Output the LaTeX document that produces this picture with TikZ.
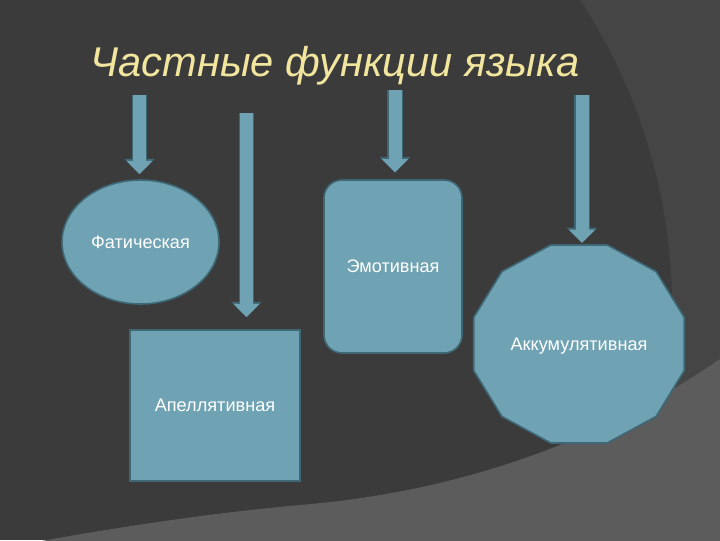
\documentclass[tikz,border=0pt]{standalone}
\usepackage{fontspec}
\setmainfont{Liberation Sans}
\usetikzlibrary{arrows.meta}
\usetikzlibrary{shapes.geometric}

\definecolor{bgdark}{RGB}{59,59,59}
\definecolor{bgmid}{RGB}{69,69,69}
\definecolor{bglight}{RGB}{92,92,92}
\definecolor{boxfill}{RGB}{111,162,178}
\definecolor{boxedge}{RGB}{62,104,118}
\definecolor{titlecol}{RGB}{242,230,158}

\begin{document}
\begin{tikzpicture}[x=0.75pt,y=0.75pt,yscale=-1,xscale=1,
  funcbox/.style={draw=boxedge, line width=1.2pt, fill=boxfill, text=white, font=\fontsize{13.6}{16}\selectfont, inner sep=0pt},
  downarrow/.style={draw=boxfill, line width=9.75pt, -{Triangle[width=19pt,length=10pt]}, preaction={draw=boxedge, line width=11.5pt, -{Triangle[width=22pt,length=11.5pt]}}}]
\useasboundingbox (0,0) rectangle (720,540);

%Background
\fill[bgdark] (0,0) rectangle (720,540);
\begin{scope}
\clip (0,0) rectangle (720,540);
\fill[bgmid, even odd rule] (-10,-10) rectangle (730,550) (108.5,308.7) circle[radius=563.6];
\fill[bglight] (730,352) .. controls (620,430) and (480,490) .. (300,505) .. controls (200,514) and (100,530) .. (20,545) -- (730,545) -- cycle;
\end{scope}

% Text Node
\node[font=\fontsize{31.2}{36}\selectfont\itshape, text=titlecol, anchor=base] (title) at (335,76) {Частные функции языка};

%Shape: Ellipse
\node[funcbox, ellipse, minimum width=117.75pt, minimum height=93pt] (phatic) at (140.5,242) {Фатическая};
%Rounded Rect
\node[funcbox, rounded corners=13.5pt, minimum width=103.5pt, minimum height=129.75pt] (emotive) at (393,266.5) {Эмотивная};
%Shape: Square
\node[funcbox, minimum width=127.5pt, minimum height=113.25pt] (appellative) at (215,405.5) {Апеллятивная};
%Shape: Polygon
\begin{scope}[shift={(579,344)}]
\draw[funcbox] (15:109 and 102.5) \foreach \ang in {45,75,...,345} { -- (\ang:109 and 102.5) } -- cycle;
\end{scope}
\node[text=white, font=\fontsize{13.6}{16}\selectfont] (accum) at (579,346) {Аккумулятивная};
\coordinate (accumtop) at (582,245);

%Down Arrows
\coordinate (top1) at (139.5,95);
\coordinate (top2) at (246.5,113);
\coordinate (top3) at (395,90);
\coordinate (top4) at (582,95);
\draw[downarrow, shorten >=3.75pt] (top1) -- (top1 |- phatic.north);
\draw[downarrow, shorten >=9pt] (top2) -- (top2 |- appellative.north);
\draw[downarrow, shorten >=5pt] (top3) -- (top3 |- emotive.north);
\draw[downarrow, shorten >=1.5pt] (top4) -- (accumtop);

\end{tikzpicture}
\end{document}
